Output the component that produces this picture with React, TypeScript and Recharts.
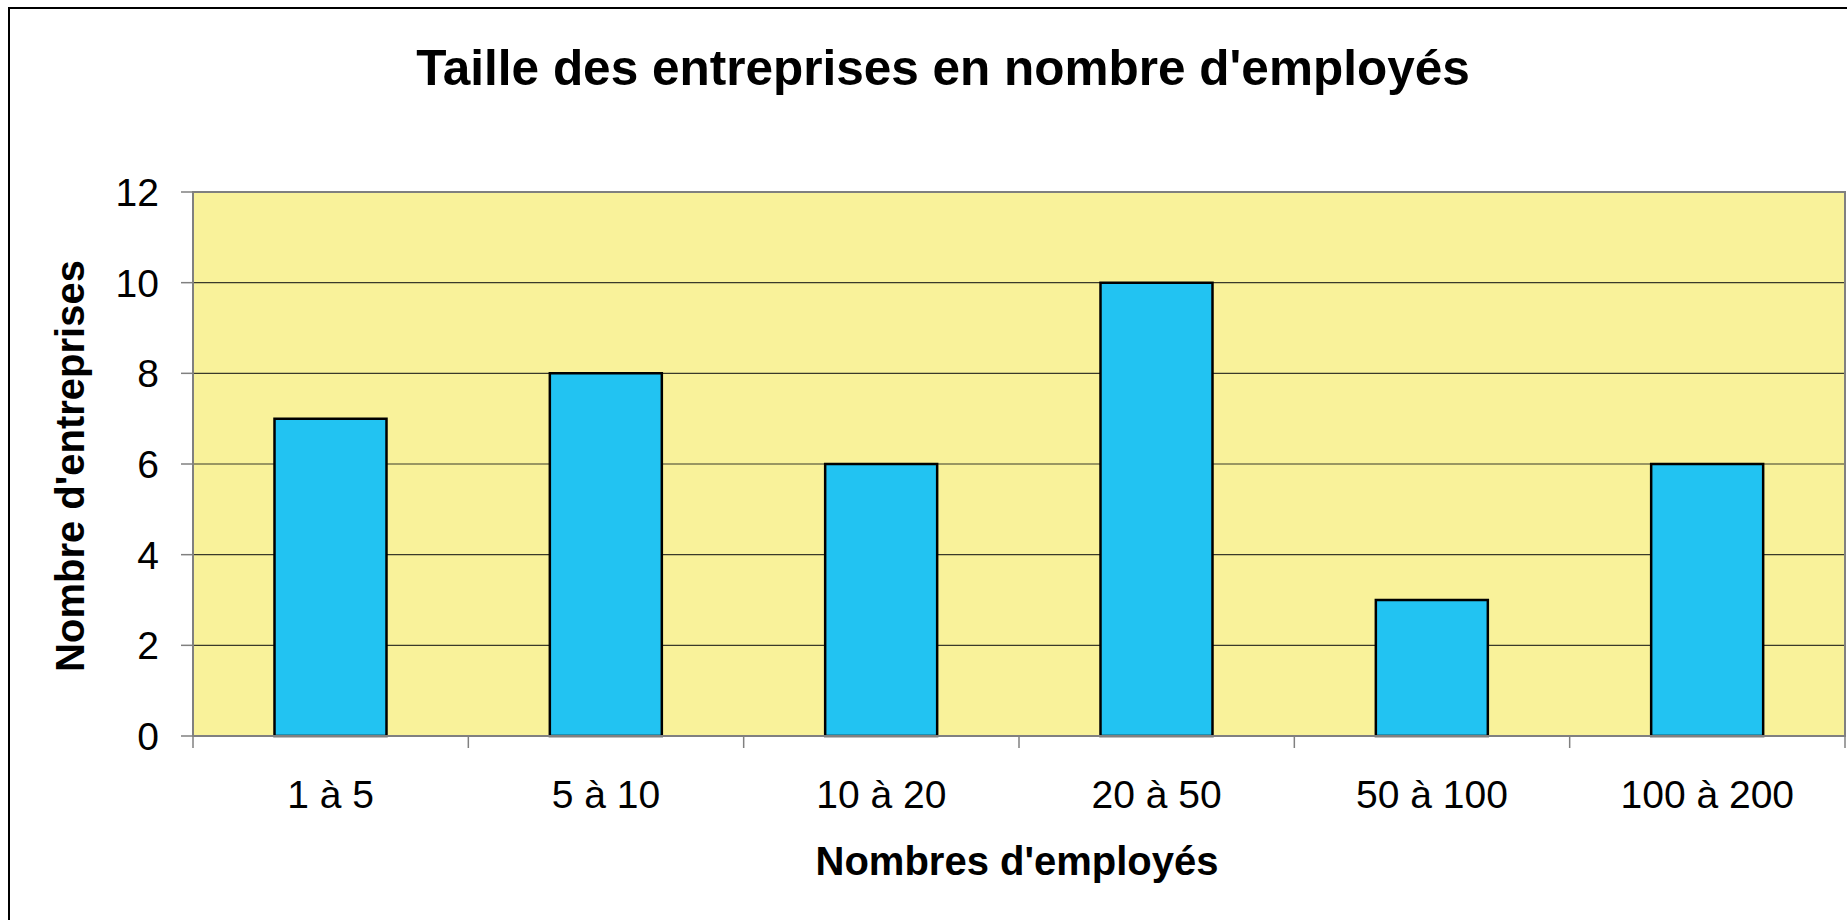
import React from 'react';
import { BarChart, Bar, XAxis, YAxis, CartesianGrid, ReferenceArea } from 'recharts';

const categories = ['1 à 5', '5 à 10', '10 à 20', '20 à 50', '50 à 100', '100 à 200'];
const companies = [7, 8, 6, 10, 3, 6];
const yTicks = [0, 2, 4, 6, 8, 10, 12];

const data = categories.map((c, i) => ({ category: c, value: companies[i] }));

const FONT = '"Liberation Sans", Arial, Helvetica, sans-serif';
const TICK_SIZE = 12;
const X_TICK_MARGIN = 32;
const AXIS_GRAY = '#808080';

const XTick = (props: any) => {
  const { x, y, payload, index } = props;
  const half = payload && typeof payload.offset === 'number' ? payload.offset : 0;
  const y1 = y - X_TICK_MARGIN - TICK_SIZE;
  const y2 = y - X_TICK_MARGIN;
  return (
    <g>
      <line x1={x - half} x2={x - half} y1={y1} y2={y2} stroke={AXIS_GRAY} strokeWidth={1.5} />
      {index === categories.length - 1 && (
        <line x1={x + half} x2={x + half} y1={y1} y2={y2} stroke={AXIS_GRAY} strokeWidth={1.5} />
      )}
      <text x={x} y={y} dy="0.71em" textAnchor="middle" fontFamily={FONT} fontSize={39} fill="#000">
        {payload.value}
      </text>
    </g>
  );
};

export default function App() {
  return (
    <div
      style={{
        position: 'fixed',
        left: 0,
        top: 0,
        width: 1847,
        height: 920,
        overflow: 'hidden',
        background: '#ffffff',
      }}
    >
      <div
        style={{
          position: 'absolute',
          left: 8,
          top: 7,
          width: 1900,
          height: 1000,
          border: '2px solid #000',
          boxSizing: 'border-box',
        }}
      />
      <div style={{ position: 'absolute', left: 0, top: 0 }}>
        <BarChart
          width={1847}
          height={920}
          data={data}
          margin={{ top: 192, right: 2, bottom: 154, left: 113 }}
          barCategoryGap="29.6%"
        >
          <CartesianGrid
            vertical={false}
            horizontal={true}
            fill="#F9F29A"
            fillOpacity={1}
            stroke="#3a3a2a"
            strokeWidth={1.2}
          />
          <ReferenceArea
            y1={0}
            y2={12}
            fill="none"
            stroke={AXIS_GRAY}
            strokeWidth={2}
            ifOverflow="visible"
          />
          <XAxis
            dataKey="category"
            height={30}
            tickLine={false}
            tickSize={TICK_SIZE}
            tickMargin={X_TICK_MARGIN}
            axisLine={{ stroke: AXIS_GRAY, strokeWidth: 2 }}
            tick={<XTick />}
            interval={0}
          />
          <YAxis
            width={80}
            domain={[0, 12]}
            ticks={yTicks}
            interval={0}
            tickSize={TICK_SIZE}
            tickMargin={22}
            tickLine={{ stroke: AXIS_GRAY, strokeWidth: 1.5 }}
            axisLine={{ stroke: AXIS_GRAY, strokeWidth: 2 }}
            tick={{ fontFamily: FONT, fontSize: 39, fill: '#000' }}
          />
          <Bar
            dataKey="value"
            fill="#22C3F2"
            stroke="#000"
            strokeWidth={2.5}
            isAnimationActive={false}
          />
        </BarChart>
      </div>
      <svg
        width={1847}
        height={920}
        style={{ position: 'absolute', left: 0, top: 0, pointerEvents: 'none' }}
      >
        <text x={943} y={85} textAnchor="middle" fontFamily={FONT} fontWeight="bold" fontSize={49.5} fill="#000">
          Taille des entreprises en nombre d'employés
        </text>
        <text x={1017} y={875} textAnchor="middle" fontFamily={FONT} fontWeight="bold" fontSize={40} fill="#000">
          Nombres d'employés
        </text>
        <text
          x={84}
          y={466}
          textAnchor="middle"
          fontFamily={FONT}
          fontWeight="bold"
          fontSize={40}
          fill="#000"
          transform="rotate(-90, 84, 466)"
        >
          Nombre d'entreprises
        </text>
      </svg>
    </div>
  );
}
